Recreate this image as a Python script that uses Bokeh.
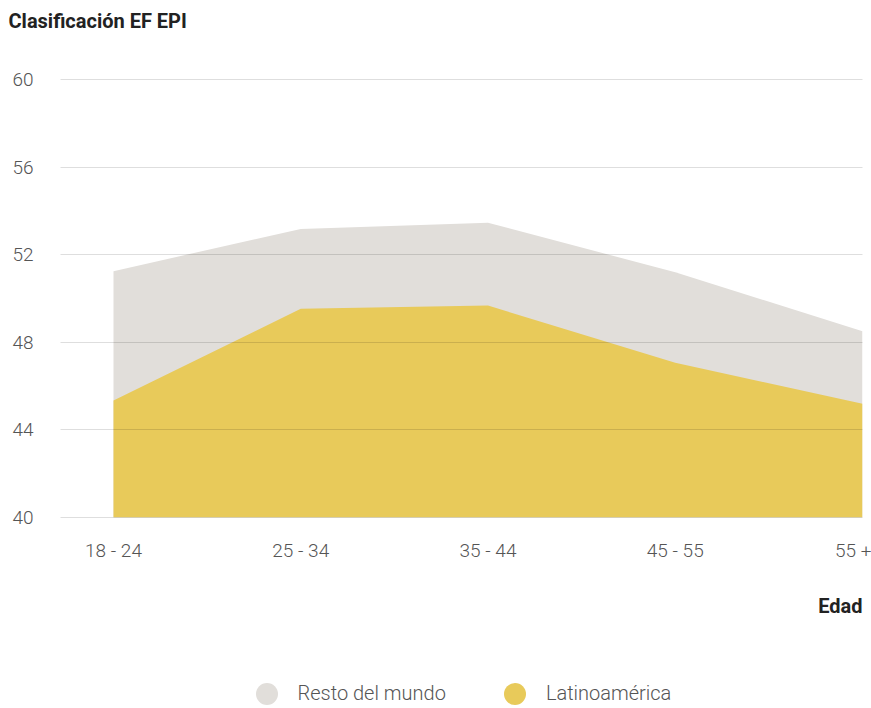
from bokeh.plotting import figure
from bokeh.layouts import column
from bokeh.models import Range1d, FixedTicker, Title, Legend, LegendItem
from bokeh.embed import file_html
from bokeh.resources import INLINE

# Age groups and EF EPI scores
categories = ["18 - 24", "25 - 34", "35 - 44", "45 - 55", "55 +"]
resto_del_mundo = [51.25, 53.18, 53.46, 51.2, 48.5]
latinoamerica = [45.34, 49.53, 49.68, 47.06, 45.19]
y_ticks = [40, 44, 48, 52, 56, 60]
series_names = ["Resto del mundo", "Latinoamérica"]

GRAY = "#E1DEDA"
YELLOW = "#E8CA5A"
FONT = "Roboto Light, Roboto"
FONT_BOLD = "Roboto"

x = list(range(len(categories)))

# heading strip
head = figure(width=871, height=40, output_backend="svg", toolbar_location=None,
              x_range=Range1d(0, 1), y_range=Range1d(0, 1),
              x_axis_type=None, y_axis_type=None,
              min_border_top=0, min_border_bottom=0)
head.outline_line_color = None
head.grid.visible = False
head.add_layout(Title(text="Clasificación EF EPI", align="left", offset=-52, standoff=13,
                      text_font=FONT_BOLD, text_font_size="20px", text_font_style="bold",
                      text_color="#222222"), "above")

# main area chart
p = figure(width=871, height=610, output_backend="svg", toolbar_location=None,
           x_range=Range1d(-0.283, len(categories) - 1), y_range=Range1d(39.9, 60.1),
           min_border_left=60, min_border_right=9, min_border_top=37,
           min_border_bottom=131)
p.outline_line_color = None
p.background_fill_color = "white"

p.varea(x=x, y1=40, y2=resto_del_mundo, fill_color=GRAY)
p.varea(x=x, y1=40, y2=latinoamerica, fill_color=YELLOW)

# horizontal gridlines drawn over the areas
p.xgrid.visible = False
p.ygrid.level = "overlay"
p.ygrid.grid_line_color = "black"
p.ygrid.grid_line_alpha = 0.13
p.ygrid.ticker = FixedTicker(ticks=y_ticks)

xa = p.xaxis[0]
xa.ticker = FixedTicker(ticks=x)
xa.major_label_overrides = {i: c for i, c in zip(x, categories)}
ya = p.yaxis[0]
ya.ticker = FixedTicker(ticks=y_ticks)
for ax in (xa, ya):
    ax.axis_line_color = None
    ax.major_tick_line_color = None
    ax.minor_tick_line_color = None
    ax.major_label_text_font = FONT
    ax.major_label_text_font_size = "19px"
    ax.major_label_text_color = "#555555"
xa.major_label_standoff = 13
ya.major_label_standoff = 21

p.add_layout(Title(text="Edad", align="right", standoff=55,
                   text_font=FONT_BOLD, text_font_size="20px", text_font_style="bold",
                   text_color="#222222"), "below")

# legend strip under the chart
leg = figure(width=871, height=58, output_backend="svg", toolbar_location=None,
             x_range=Range1d(0, 871), y_range=Range1d(0, 58),
             x_axis_type=None, y_axis_type=None, min_border=0)
leg.outline_line_color = None
leg.grid.visible = False
swatches = [leg.scatter(x=[-100], y=[-100], marker="circle", size=22,
                        fill_color=c, line_color=None) for c in (GRAY, YELLOW)]
legend = Legend(items=[LegendItem(label=n, renderers=[r]) for n, r in zip(series_names, swatches)],
                location=(178.5, -12.5), orientation="horizontal",
                glyph_width=55, glyph_height=55, label_standoff=4,
                padding=0, margin=0, spacing=41,
                border_line_alpha=0, background_fill_alpha=0,
                label_text_font=FONT, label_text_font_size="20px",
                label_text_color="#555555")
leg.add_layout(legend, "center")

open("out.html", "w").write(file_html(column(head, p, leg, spacing=0), INLINE))
